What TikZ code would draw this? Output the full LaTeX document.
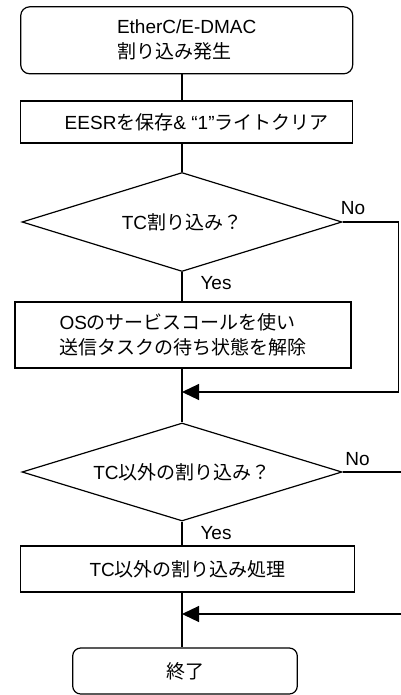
\documentclass[tikz,border=0pt]{standalone}
\usepackage{fontspec}
\setmainfont{Liberation Sans}
\newfontfamily\cjk{Noto Sans CJK JP}
\usepackage{tikz}
\usetikzlibrary{shapes.geometric}
\usetikzlibrary{arrows.meta}
\tikzset{
    startstop/.style={draw, rounded corners=9pt, inner sep=0pt, align=left},
    procbox/.style={draw, inner sep=0pt, align=left},
    decision/.style={draw, diamond, aspect=3.2, inner sep=0pt, minimum width=320pt, minimum height=99pt},
    flowarrow/.style={-{Triangle[length=17pt,width=16pt]}},
    lbl/.style={inner sep=0pt}
}

\begin{document}
\begin{tikzpicture}[x=1pt, y=-1pt, line width=1.2pt, font={\fontsize{19}{25}\selectfont}]
		\useasboundingbox (0,0) rectangle (400,695);

		%start
		\node[startstop, minimum width=332pt, minimum height=67pt] (start) at (186.7,40.3) {EtherC/E-DMAC\\{\cjk 割り込み発生}};
		\node[procbox, minimum width=332pt, minimum height=42pt] (save) at (186.7,122) {\hspace{20pt}EESR{\cjk を保存}\& “1”{\cjk ライトクリア}};

		%TC interrupt
		\node[decision] (dec1) at (182,222) {TC{\cjk 割り込み？}};
		\node[procbox, minimum width=336pt, minimum height=66pt] (proc) at (183,335) {OS{\cjk のサービスコールを使い}\\{\cjk 送信タスクの待ち状態を解除}};

		%other interrupts
		\node[decision, minimum height=98pt] (dec2) at (182,472) {TC{\cjk 以外の割り込み？}};
		\node[procbox, minimum width=334pt, minimum height=46pt] (proc2) at (187.8,569) {TC{\cjk 以外の割り込み処理}};

		%end
		\node[startstop, rounded corners=8pt, minimum width=224.6pt, minimum height=46pt] (end) at (185,671) {{\cjk 終了}};

		% labels
		\node[lbl] (no1) at (353,208) {No};
		\node[lbl] (yes1) at (216,283) {Yes};
		\node[lbl] (no2) at (357.5,459) {No};
		\node[lbl] (yes2) at (216,533) {Yes};

		\draw (start.south -| dec1.north) -- (save.north -| dec1.north);
		\draw (save.south -| dec1.north) -- (dec1.north);
		\draw (dec1.south) -- (proc.north -| dec1.south);
		\draw (proc.south -| dec1.south) -- (dec2.north);
		\draw (dec2.south) -- (proc2.north -| dec2.south);
		\draw (proc2.south -| dec2.south) -- (end.north -| dec2.south);

		% No branches
		\coordinate (back1) at (398.3,392);
		\coordinate (back2) at (403,614);
		\draw[flowarrow] (dec1.east) -| (back1) -- (back1 -| dec1.south);
		\draw[flowarrow] (dec2.east) -| (back2) -- (back2 -| dec2.south);

	\end{tikzpicture}
\end{document}
